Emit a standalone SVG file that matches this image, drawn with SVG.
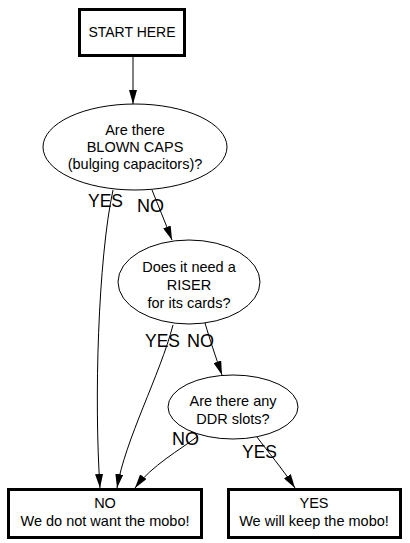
<svg xmlns="http://www.w3.org/2000/svg" width="410" height="543" viewBox="0 0 410 543">
<style>
.box{fill:#fff;stroke:#000;stroke-width:3}
.ell{fill:#fff;stroke:#000;stroke-width:1}
.t{font-family:"Liberation Sans",Arial,sans-serif;font-size:14.5px;fill:#000;text-anchor:middle}
.lbl{font-family:"Liberation Sans",Arial,sans-serif;font-size:19px;fill:#000}
.c{fill:none;stroke:#000;stroke-width:1;marker-end:url(#ah)}
</style>
<defs>
<marker id="ah" viewBox="0 0 14 8" refX="14" refY="4" markerWidth="14" markerHeight="8" markerUnits="userSpaceOnUse" orient="auto">
<path d="M0,0 L14,4 L0,8 z" fill="#000"/>
</marker>
</defs>
<rect width="410" height="543" fill="#fff"/>
<g id="connectors">
<path class="c" d="M133,57 L133,104"/>
<path class="c" d="M152,190 C158,205 165,222 172,240"/>
<path class="c" d="M113,190 C98,260 94,400 100,488"/>
<path class="c" d="M173,325 C160,375 125,440 117,488"/>
<path class="c" d="M205,323 C210,340 215,355 222,375"/>
<path class="c" d="M198,436 C180,450 152,465 135,488"/>
<path class="c" d="M257,437 C268,452 282,468 295,488"/>
</g>
<g id="start">
<rect class="box" x="79.5" y="9.5" width="105" height="46"/>
<text class="t" x="132" y="37" style="font-size:14px">START HERE</text>
</g>
<g id="q1">
<ellipse class="ell" cx="135" cy="147" rx="92" ry="43"/>
<text class="t" x="135" y="135">Are there</text>
<text class="t" x="135" y="152">BLOWN CAPS</text>
<text class="t" x="135" y="169">(bulging capacitors)?</text>
</g>
<g id="q2">
<ellipse class="ell" cx="189" cy="282" rx="71" ry="42"/>
<text class="t" x="189" y="272">Does it need a</text>
<text class="t" x="189" y="290">RISER</text>
<text class="t" x="189" y="308">for its cards?</text>
</g>
<g id="q3">
<ellipse class="ell" cx="233" cy="407" rx="65" ry="32"/>
<text class="t" x="233" y="406">Are there any</text>
<text class="t" x="233" y="424">DDR slots?</text>
</g>
<g id="no">
<rect class="box" x="8.5" y="489.5" width="193" height="48"/>
<text class="t" x="105" y="508">NO</text>
<text class="t" x="105" y="526">We do not want the mobo!</text>
</g>
<g id="yes">
<rect class="box" x="228.5" y="489.5" width="172" height="48"/>
<text class="t" x="314" y="508">YES</text>
<text class="t" x="314" y="526">We will keep the mobo!</text>
</g>
<g id="labels">
<text class="lbl" x="88" y="207" textLength="35" lengthAdjust="spacingAndGlyphs">YES</text>
<text class="lbl" x="137" y="212" textLength="27" lengthAdjust="spacingAndGlyphs">NO</text>
<text class="lbl" x="145" y="347" textLength="35" lengthAdjust="spacingAndGlyphs">YES</text>
<text class="lbl" x="187" y="347" textLength="27" lengthAdjust="spacingAndGlyphs">NO</text>
<text class="lbl" x="172" y="445" textLength="27" lengthAdjust="spacingAndGlyphs">NO</text>
<text class="lbl" x="242" y="458" textLength="35" lengthAdjust="spacingAndGlyphs">YES</text>
</g>
</svg>
